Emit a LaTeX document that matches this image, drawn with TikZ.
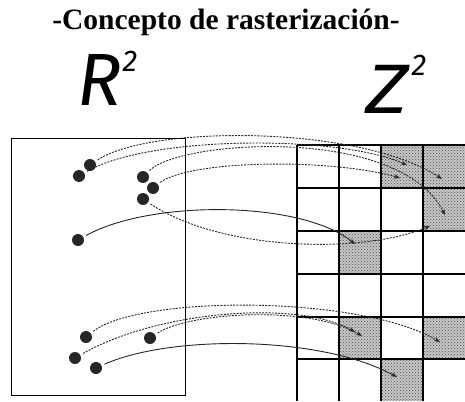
\documentclass[tikz,border=0pt]{standalone}
\usepackage{fontspec}
\setmainfont{Liberation Serif}
\newfontfamily\gothic{Fira Sans Italic}
\usetikzlibrary{arrows.meta,calc,patterns,positioning}

\begin{document}
\begin{tikzpicture}[x=1pt,y=-1pt,>={Stealth[length=6pt,width=4.5pt]},
  dot/.style={circle,fill=black!85,inner sep=0pt,minimum size=12pt},
  ray/.style={->,line width=0.9pt,black!85,shorten <=3pt},
  dotray/.style={ray,dash pattern=on 2pt off 1.2pt},
  hit/.style={fill=black!22,postaction={pattern=crosshatch dots,pattern color=black!70}}]
  \useasboundingbox (0,0) rectangle (465,401);
  % titles
  \node[font=\bfseries\fontsize{29.5}{32}\selectfont] (title) at (226,22) {-Concepto de rasterización-};
  \node[font=\gothic\fontsize{74}{78}\selectfont] (rr) at (100,80) {R};
  \node[font=\gothic\fontsize{30}{32}\selectfont] (rtwo) at (130,61) {2};
  \node[font=\gothic\fontsize{70}{72}\selectfont,xscale=1.2] (zz) at (387,89) {Z};
  \node[font=\gothic\fontsize{30}{32}\selectfont] (ztwo) at (419,65) {2};
  % plane R^2
  \draw[thick] (11,138) rectangle (185,395);
  % raster Z^2
  \fill[hit] (381,145) rectangle (423,188);
  \fill[hit] (423,145) rectangle (465,188);
  \fill[hit] (423,188) rectangle (465,231);
  \fill[hit] (339,231) rectangle (381,274);
  \fill[hit] (339,317) rectangle (381,359);
  \fill[hit] (423,317) rectangle (465,359);
  \fill[hit] (381,359) rectangle (423,401);
  \foreach \x in {297,339,381,423}
    \draw[line width=1.3pt] (\x,145) -- (\x,401);
  \foreach \y in {145,188,231,274,317,359}
    \draw[line width=1.3pt] (297,\y) -- (465,\y);
  % points
  \node[dot] (a) at (90,165) {};
  \node[dot] (b) at (79,176) {};
  \node[dot] (c) at (143,177) {};
  \node[dot] (d) at (153,188) {};
  \node[dot] (e) at (143,199) {};
  \node[dot] (f) at (78,240) {};
  \node[dot] (g) at (86,337) {};
  \node[dot] (h) at (150,338) {};
  \node[dot] (i) at (75,358) {};
  \node[dot] (j) at (96,368) {};
  % pixel targets
  \coordinate (pa) at (442,179);
  \coordinate (pb) at (407,165);
  \coordinate (pc) at (400,178);
  \coordinate (pd) at (445,215);
  \coordinate (pe) at (430,226);
  \coordinate (pf) at (355,244);
  \coordinate (pg) at (355,332);
  \coordinate (ph) at (362,336);
  \coordinate (pi) at (440,342);
  \coordinate (pj) at (397,377);
  % mappings
  \draw[dotray] (a) .. controls (150,125) and (360,125) .. (pa);
  \draw[dotray] (b) .. controls (150,135) and (340,135) .. (pb);
  \draw[dotray] (c) .. controls (180,140) and (400,125) .. (pd);
  \draw[dotray] (d) .. controls (190,160) and (330,158) .. (pc);
  \draw[dotray] (e) .. controls (220,250) and (360,255) .. (pe);
  \draw[ray] (f) .. controls (150,200) and (300,200) .. (pf);
  \draw[dotray] (g) .. controls (140,295) and (360,295) .. (pi);
  \draw[dotray] (i) .. controls (160,310) and (300,300) .. (pg);
  \draw[dotray] (h) .. controls (190,312) and (310,305) .. (ph);
  \draw[ray] (j) .. controls (170,335) and (320,335) .. (pj);
\end{tikzpicture}
\end{document}
